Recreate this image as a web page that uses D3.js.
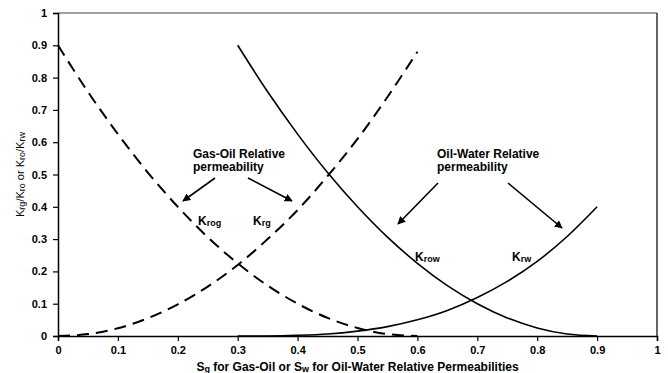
<!DOCTYPE html>
<html>
<head>
<meta charset="utf-8">
<script src="https://cdn.jsdelivr.net/npm/d3@7"></script>
<style>
  body { margin: 0; background: #fff; }
  svg text { font-family: "Liberation Sans", Arial, sans-serif; }
</style>
</head>
<body>
<div id="chart"></div>
<script>
// gas-oil system (Sg)
var sg   = [0, 0.05, 0.1, 0.15, 0.2, 0.25, 0.3, 0.35, 0.4, 0.45, 0.5, 0.55, 0.6];
var krog = [0.90, 0.756, 0.625, 0.506, 0.40, 0.306, 0.225, 0.156, 0.10, 0.056, 0.025, 0.006, 0];
var krg  = [0, 0.006, 0.024, 0.055, 0.098, 0.153, 0.22, 0.30, 0.39, 0.495, 0.61, 0.74, 0.88];

// oil-water system (Sw)
var sw   = [0.3, 0.35, 0.4, 0.45, 0.5, 0.55, 0.6, 0.65, 0.7, 0.75, 0.8, 0.85, 0.9];
var krow = [0.90, 0.756, 0.625, 0.506, 0.40, 0.306, 0.225, 0.156, 0.10, 0.056, 0.025, 0.006, 0];
var krw  = [0, 0.0002, 0.002, 0.006, 0.015, 0.029, 0.05, 0.079, 0.119, 0.169, 0.231, 0.308, 0.40];

var xTicks = [0, 0.1, 0.2, 0.3, 0.4, 0.5, 0.6, 0.7, 0.8, 0.9, 1];
var yTicks = [0, 0.1, 0.2, 0.3, 0.4, 0.5, 0.6, 0.7, 0.8, 0.9, 1];

var W = 668, H = 373;
var margin = { top: 13, right: 11, bottom: 37, left: 58 },
    width = W - margin.left - margin.right,
    height = H - margin.top - margin.bottom;

var root = d3.select("#chart").append("svg")
  .attr("width", W)
  .attr("height", H);

var defs = root.append("defs");
defs.append("marker")
  .attr("id", "arrow")
  .attr("viewBox", "0 0 10 10")
  .attr("refX", 9).attr("refY", 5)
  .attr("markerWidth", 5).attr("markerHeight", 5)
  .attr("markerUnits", "strokeWidth")
  .attr("orient", "auto")
  .append("path")
  .attr("d", "M0,0 L10,5 L0,10 z")
  .attr("fill", "#000");

var svg = root.append("g")
  .attr("transform", "translate(" + margin.left + "," + margin.top + ")");

var x = d3.scaleLinear().domain([0, 1]).range([0, width]);
var y = d3.scaleLinear().domain([0, 1]).range([height, 0]);

// plot frame: grey top, black right
svg.append("line")
  .attr("x1", 0).attr("x2", width).attr("y1", 0).attr("y2", 0)
  .attr("stroke", "#808080").attr("stroke-width", 1.5);
svg.append("line")
  .attr("x1", width).attr("x2", width).attr("y1", 0).attr("y2", height)
  .attr("stroke", "#000").attr("stroke-width", 1.2);

var fmt = d3.format("~g");

var xAxis = svg.append("g")
  .attr("transform", "translate(0," + height + ")")
  .call(d3.axisBottom(x).tickValues(xTicks).tickFormat(fmt).tickSizeOuter(0).tickSize(5).tickPadding(5));
var yAxis = svg.append("g")
  .call(d3.axisLeft(y).tickValues(yTicks).tickFormat(fmt).tickSizeOuter(0).tickSize(5).tickPadding(6));

[xAxis, yAxis].forEach(function (a) {
  a.select(".domain").attr("stroke", "#000").attr("stroke-width", 1.5);
  a.selectAll(".tick line").attr("stroke", "#000").attr("stroke-width", 1.2);
  a.selectAll(".tick text")
    .attr("fill", "#000")
    .style("font-family", "'Liberation Sans', Arial, sans-serif")
    .style("font-size", "11px")
    .style("font-weight", "bold");
});

var line = d3.line()
  .x(function (d) { return x(d[0]); })
  .y(function (d) { return y(d[1]); })
  .curve(d3.curveMonotoneX);

function pairs(xs, ys) {
  return xs.map(function (v, i) { return [v, ys[i]]; });
}

svg.append("path").datum(pairs(sg, krog))
  .attr("fill", "none").attr("stroke", "#000").attr("stroke-width", 2)
  .attr("stroke-dasharray", "12,7")
  .attr("d", line);
svg.append("path").datum(pairs(sg, krg))
  .attr("fill", "none").attr("stroke", "#000").attr("stroke-width", 2)
  .attr("stroke-dasharray", "12,7")
  .attr("d", line);
svg.append("path").datum(pairs(sw, krow))
  .attr("fill", "none").attr("stroke", "#000").attr("stroke-width", 1.6)
  .attr("d", line);
svg.append("path").datum(pairs(sw, krw))
  .attr("fill", "none").attr("stroke", "#000").attr("stroke-width", 1.6)
  .attr("d", line);

// annotations (page coordinates)
var ann = root.append("g");

function label(px, py, parts, size) {
  var t = ann.append("text")
    .attr("x", px).attr("y", py)
    .style("font-size", size + "px")
    .style("font-weight", "bold");
  parts.forEach(function (p) {
    var s = t.append("tspan").text(p.t);
    if (p.sub) s.style("font-size", (size - 3) + "px").attr("dy", p.dy || 0);
    else if (p.dy) s.attr("dy", p.dy);
  });
  return t;
}

label(193, 158, [{ t: "Gas-Oil Relative" }], 12);
label(193, 171, [{ t: "permeability" }], 12);
label(437, 158, [{ t: "Oil-Water Relative" }], 12);
label(437, 171, [{ t: "permeability" }], 12);

label(198, 225, [{ t: "K" }, { t: "rog", sub: true, dy: 1 }], 12);
label(253, 225, [{ t: "K" }, { t: "rg", sub: true, dy: 1 }], 12);
label(415, 261, [{ t: "K" }, { t: "row", sub: true, dy: 1 }], 12);
label(512, 261, [{ t: "K" }, { t: "rw", sub: true, dy: 1 }], 12);

var arrows = [
  [215, 178, 183, 201],
  [248, 178, 292, 201],
  [438, 183, 398, 224],
  [508, 183, 562, 228]
];
arrows.forEach(function (a) {
  ann.append("line")
    .attr("x1", a[0]).attr("y1", a[1]).attr("x2", a[2]).attr("y2", a[3])
    .attr("stroke", "#000").attr("stroke-width", 1.6)
    .attr("marker-end", "url(#arrow)");
});

// axis titles
var xt = root.append("text")
  .attr("x", margin.left + width / 2).attr("y", 371)
  .attr("text-anchor", "middle")
  .style("font-size", "12px").style("font-weight", "bold");
xt.append("tspan").text("S");
xt.append("tspan").text("g").style("font-size", "9px").attr("dy", 1);
xt.append("tspan").text(" for Gas-Oil or S").attr("dy", -1);
xt.append("tspan").text("w").style("font-size", "9px").attr("dy", 1);
xt.append("tspan").text(" for Oil-Water Relative Permeabilities").attr("dy", -1);

var yt = root.append("text")
  .attr("transform", "translate(24," + (margin.top + height / 2) + ") rotate(-90)")
  .attr("text-anchor", "middle")
  .style("font-size", "11px");
yt.append("tspan").text("K");
yt.append("tspan").text("rg").style("font-size", "9px").attr("dy", 1);
yt.append("tspan").text("/K").attr("dy", -1);
yt.append("tspan").text("ro").style("font-size", "9px").attr("dy", 1);
yt.append("tspan").text(" or K").attr("dy", -1);
yt.append("tspan").text("ro").style("font-size", "9px").attr("dy", 1);
yt.append("tspan").text("/K").attr("dy", -1);
yt.append("tspan").text("rw").style("font-size", "9px").attr("dy", 1);
</script>
</body>
</html>
